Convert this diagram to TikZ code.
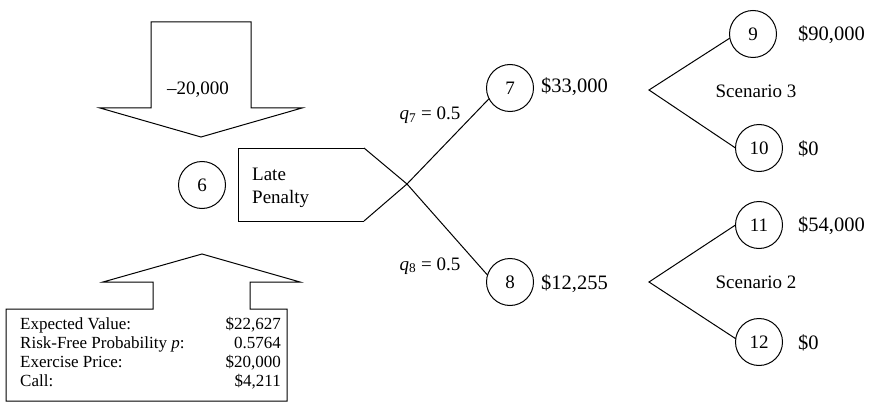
\documentclass[tikz,border=0pt]{standalone}
\usepackage{fontspec}
\setmainfont{Liberation Serif}
\usetikzlibrary{positioning}

\begin{document}
\begin{tikzpicture}[x=1pt, y=-1pt,
  outline/.style={draw, line width=1pt, line join=miter},
  state/.style={
    draw, circle, line width=1pt,
    minimum size=47pt, inner sep=0pt, outer sep=0pt,
    font=\fontsize{19}{22}\selectfont
  },
  lbl/.style={inner sep=0pt, font=\fontsize{19}{22}\selectfont},
  payoff/.style={inner sep=0pt, anchor=base west, font=\fontsize{20.5}{22}\selectfont},
  boxtext/.style={inner sep=0pt, font=\fontsize{17}{19}\selectfont},
  branch/.style={line width=1pt}
]
\useasboundingbox (0,0) rectangle (875,409);

% incoming cash flow
\draw[outline] (151,22) -- (251,22) -- (251,108) -- (302,108) -- (201,137)
  -- (100,108) -- (151,108) -- cycle;
\node[lbl, anchor=base] (cash) at (198,95) {--20,000};

\node[state] (n6) at (202,185) {6};

% late penalty tag
\coordinate (pt) at (364,148);
\coordinate (pb) at (364,221);
\coordinate (cross) at (407,184);
\draw[outline] (pt) -- (238,148) -- (238,221) -- (pb);
\node[lbl, align=left, anchor=base west] (penalty) at (252,203)
  {Late\\[1pt]Penalty};

\node[state] (n7) at (510,88) {7};
\node[state] (n8) at (510,282) {8};
\draw[branch] (pt) -- (cross) -- (n8.163);
\draw[branch] (pb) -- (cross) -- (n7.207);
\node[lbl, anchor=base] (q7) at (430,120) {\textit{q}\textsubscript{7} = 0.5};
\node[lbl, anchor=base] (q8) at (430,270) {\textit{q}\textsubscript{8} = 0.5};
\node[payoff] (v7) at (541,93) {\$33,000};
\node[payoff] (v8) at (541,289) {\$12,255};

% scenario 3
\coordinate (f3) at (649,90);
\node[state] (n9) at (753,34) {9};
\node[state] (n10) at (759,148) {10};
\draw[branch] (n9.190) -- (f3) -- (n10.west);
\node[lbl, anchor=base] (s3) at (756,98) {Scenario 3};
\node[payoff] (v9) at (798,41) {\$90,000};
\node[payoff] (v10) at (798,155) {\$0};

% scenario 2
\coordinate (f2) at (649,282);
\node[state] (n11) at (759,225) {11};
\node[state] (n12) at (759,342) {12};
\draw[branch] (n11.west) -- (f2) -- (n12.172);
\node[lbl, anchor=base] (s2) at (756,288) {Scenario 2};
\node[payoff] (v11) at (798,231) {\$54,000};
\node[payoff] (v12) at (798,349) {\$0};

% valuation box with arrow
\draw[outline] (6,309) -- (153,309) -- (153,282) -- (103,282) -- (202,254)
  -- (300,282) -- (250,282) -- (250,309) -- (287,309) -- (287,401)
  -- (6,401) -- cycle;
\node[boxtext, anchor=base west] (k1) at (20,329) {Expected Value:};
\node[boxtext, anchor=base west] (k2) at (20,348) {Risk-Free Probability \textit{p}:};
\node[boxtext, anchor=base west] (k3) at (20,367) {Exercise Price:};
\node[boxtext, anchor=base west] (k4) at (20,386) {Call:};
\node[boxtext, anchor=base east] (r1) at (281,329) {\$22,627};
\node[boxtext, anchor=base east] (r2) at (281,348) {0.5764};
\node[boxtext, anchor=base east] (r3) at (281,367) {\$20,000};
\node[boxtext, anchor=base east] (r4) at (281,386) {\$4,211};

\end{tikzpicture}
\end{document}
